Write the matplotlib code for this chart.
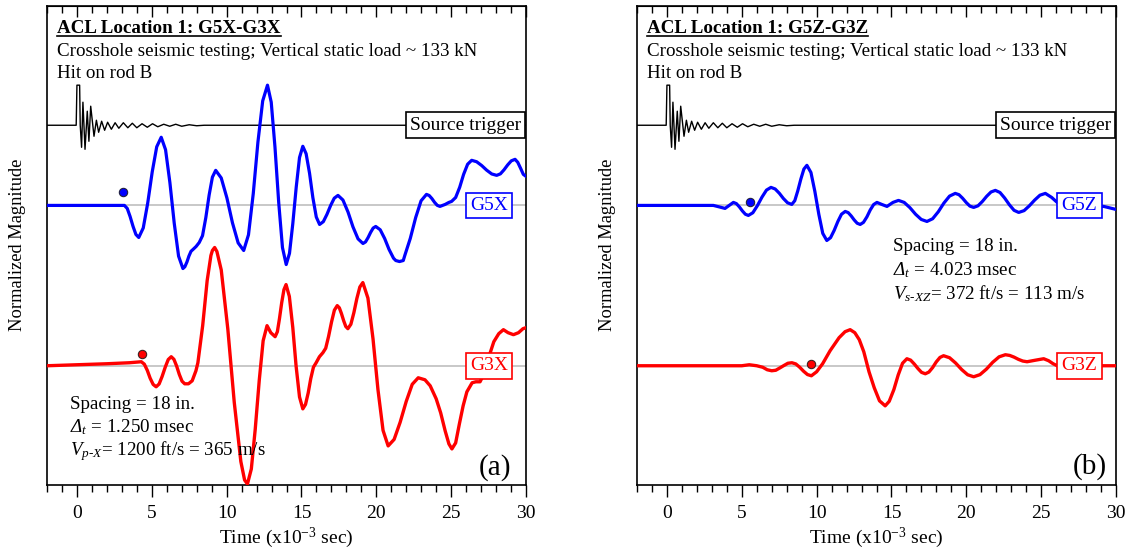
import numpy as np
import matplotlib
matplotlib.use('Agg')
import matplotlib.pyplot as plt
from matplotlib import transforms
from matplotlib.ticker import MultipleLocator
from matplotlib.lines import Line2D

plt.rcParams['font.family'] = ['Liberation Serif', 'DejaVu Serif']
plt.rcParams['mathtext.fontset'] = 'custom'
plt.rcParams['mathtext.rm'] = 'Liberation Serif'
plt.rcParams['mathtext.it'] = 'Liberation Serif:italic'
plt.rcParams['mathtext.cal'] = 'Liberation Serif:italic'   # used for the italic Delta

# time in ms, magnitude in arbitrary (normalized) units

# source trigger (same hit shown in both panels)
trig_t = [-2, -0.05, 0.0, 0.18, 0.22, 0.31, 0.4, 0.54, 0.69, 0.8, 0.92, 1.14, 1.3, 1.45,
          1.65, 1.85, 2.05, 2.3, 2.55, 2.8, 3.1, 3.4, 3.7, 4.0, 4.35, 4.7, 5.05, 5.4,
          5.8, 6.2, 6.6, 7.0, 7.5, 8.0, 8.5, 30]
trig_a = [0, 0, 40, 40, 0, -22, 23, -24, 14, -16, 19, -11, 5, -7,
          4, -5, 3, -4, 2.5, -3, 2.5, -2.5, 2, -2.5, 1.5, -2, 1.5, -1.5,
          1, -1, 1, -1, 0.5, -0.5, 0, 0]

# panel (a): G5X / G3X
g5x_t = [-2, 0, 2, 3.17, 3.36, 3.55, 3.75, 3.94, 4.13, 4.43, 4.73, 5.03, 5.33, 5.63,
         5.92, 6.21, 6.5, 6.79, 7.08, 7.21, 7.35, 7.48, 7.62, 7.75, 7.96, 8.17,
         8.39, 8.61, 8.83, 9.05, 9.27, 9.64, 10.02, 10.39, 10.77, 11.14,
         11.46, 11.78, 12.09, 12.41, 12.73, 12.98, 13.23, 13.48, 13.73, 13.98,
         14.2, 14.42, 14.65, 14.87, 15.09, 15.31, 15.54, 15.76, 15.99, 16.21,
         16.46, 16.7, 16.95, 17.19, 17.44, 17.77, 18.11, 18.44, 18.78, 19.11,
         19.28, 19.45, 19.62, 19.79, 19.96, 20.26, 20.56, 20.85, 21.15, 21.3, 21.55, 21.8,
         21.91, 22.27, 22.63, 22.99, 23.35, 23.53, 23.71, 23.89, 24.07, 24.25, 24.6, 24.85,
         25.03, 25.3, 25.57, 25.83, 26.1, 26.37, 26.7, 27.04, 27.37, 27.71, 28.04,
         28.29, 28.53, 28.78, 29.02, 29.27, 29.45, 29.64, 29.82, 30]
g5x_a = [0, 0, 0, 0, -3, -11, -21, -29, -32, -22.5, 2.5, 33.5, 58.5, 68,
         55.6, 22.8, -17.8, -50.6, -63, -61.2, -56.4, -50.6, -45.8, -44, -41, -37,
         -30.2, -12.2, 10.2, 28.2, 35, 27.4, 7.4, -17.4, -37.4, -45,
         -29.3, 11.9, 63.1, 104.3, 120, 103, 58.2, 2.8, -42, -59,
         -47.8, -18.3, 18.3, 47.8, 59, 51.6, 32.1, 7.9, -11.6, -19,
         -16.2, -9, 0, 7.2, 10, 5.4, -6.6, -21.4, -33.4, -38,
         -36.4, -32.1, -26.9, -22.6, -21, -24.3, -33.1, -43.9, -52.7, -55, -56, -55,
         -49.6, -32.9, -12.1, 4.6, 11, 9.9, 6.9, 3.1, 0.1, -1, 1, 3,
         4, 7.9, 18.1, 30.9, 41.1, 45, 43.6, 39.8, 35.2, 31.4, 30,
         31.5, 35.5, 40.5, 44.5, 46, 43, 37, 31, 29]

g3x_t = [-2, 0, 2, 3.5, 4.3, 4.5, 4.7, 4.89, 5.09, 5.29, 5.49, 5.69, 5.9, 6.1, 6.3,
         6.48, 6.66, 6.84, 7.02, 7.2, 7.45, 7.7, 7.95, 8.08, 8.4, 8.7, 8.95, 9.05, 9.2, 9.35,
         9.64, 10.08, 10.51, 10.95, 11.2, 11.39, 11.65, 11.91, 12.18, 12.44, 12.7, 12.95,
         13.24, 13.39, 13.53, 13.68, 13.83, 13.97, 14.19, 14.42, 14.64, 14.87, 15.09,
         15.27, 15.45, 15.62, 15.8, 15.98, 16.2, 16.43, 16.62, 16.81, 17.01, 17.2, 17.39,
         17.53, 17.67, 17.82, 17.96, 18.1, 18.3, 18.5, 18.7, 18.9, 19.1, 19.44, 19.78,
         20.11, 20.45, 20.79, 21.19, 21.59, 22.0, 22.4, 22.8, 23.25, 23.6, 24.0, 24.3,
         24.6, 24.85, 25.05, 25.3, 25.55, 25.8, 26.05, 26.4, 26.65, 26.93, 27.2, 27.5,
         27.85, 28.18, 28.49, 28.8, 29.16, 29.5, 29.8, 30]
g3x_a = [0, 1, 2, 3, 4, 1.6, -4.6, -12.4, -18.6, -21, -18.2, -10.7, -1.4, 6.2, 9,
         6.4, -0.3, -8.7, -15.4, -18, -18, -15, -5, 3, 40, 85, 110, 115, 118, 114,
         95.6, 36.6, -36.6, -95.6, -114, -118, -103, -63.5, -14.5, 25, 40, 33,
         29, 34, 47, 63, 76, 81, 69.2, 38.2, -0.2, -31.2, -43,
         -38.6, -27.1, -12.9, -1.4, 3, 9, 13, 17.5, 29.2, 43.8, 55.5, 60,
         57.8, 52.1, 44.9, 39.2, 37, 41.4, 52.9, 67.1, 78.6, 83, 67.5, 26.8,
         -23.8, -64.5, -80, -73.5, -56.5, -35.5, -18.5, -12, -14, -20, -33, -47,
         -65, -78, -83, -77, -58, -40, -26, -17, -16, -16, -8, 8,
         24, 32, 36, 33, 31, 33, 37, 38]

# panel (b): G5Z / G3Z
g5z_t = [-2, 1, 2.5, 3.1, 3.5, 3.88, 4.16, 4.44, 4.64, 4.84, 5.04, 5.24, 5.44,
         5.74, 6.04, 6.35, 6.65, 6.95, 7.23, 7.51, 7.78, 8.06, 8.34, 8.54, 8.74, 8.95,
         9.15, 9.35, 9.62, 9.88, 10.15, 10.41, 10.68, 10.93, 11.17, 11.42, 11.66, 11.91,
         12.11, 12.31, 12.51, 12.71, 12.91, 13.13, 13.36, 13.58, 13.81, 14.03, 14.35,
         14.7, 15.1, 15.47, 15.85, 16.23, 16.61, 16.99, 17.37, 17.75, 18.13, 18.5, 18.88,
         19.26, 19.51, 19.75, 20.0, 20.24, 20.49, 20.78, 21.07, 21.36, 21.65, 21.94,
         22.25, 22.56, 22.88, 23.19, 23.5, 23.86, 24.21, 24.57, 24.92, 25.28, 25.7,
         26.07, 27, 28, 29.18, 30]
g5z_a = [0, 0, 0, 0, -1.5, -3, 0, 3, 1.8, -1.5, -5.5, -8.8, -10,
         -7.3, -0.3, 8.3, 15.3, 18, 16.4, 12.1, 6.9, 2.6, 1, 4.7, 14.5, 26.5,
         36.3, 40, 32.9, 14.1, -9.1, -27.9, -35, -32.2, -25, -16, -8.8, -6,
         -7.2, -10.5, -14.5, -17.8, -19, -16.9, -11.4, -4.6, 0.9, 3, 1,
         -1, 3, 5, 3, -2.2, -8.8, -14, -16, -13.3, -6.3, 2.3, 9.3,
         12, 10.7, 7.2, 2.8, -0.7, -2, -0.4, 3.9, 9.1, 13.4, 15,
         12.9, 7.4, 0.6, -4.9, -7, -5.2, -0.4, 5.4, 10.2, 12, 8,
         3, 0, 0, -1, -4]

g3z_t = [-2, 2, 5.0, 5.5, 6.0, 6.4, 6.7, 7.0, 7.27, 7.54, 7.81, 8.08, 8.35, 8.61, 8.87,
         9.13, 9.39, 9.65, 10.0, 10.4, 10.9, 11.5, 11.9, 12.24, 12.55, 12.85, 13.15,
         13.5, 13.85, 14.2, 14.58, 14.85, 15.16, 15.45, 15.74, 16.03, 16.28, 16.52,
         16.77, 17.01, 17.26, 17.5, 17.75, 17.99, 18.24, 18.48, 18.88, 19.28, 19.69,
         20.09, 20.49, 20.91, 21.34, 21.76, 22.19, 22.61, 22.9, 23.19, 23.48, 23.77,
         24.06, 24.6, 25.17, 25.5, 25.8, 26.07, 30]
g3z_a = [0, 0, 0, 1, 0, -1.5, -4, -5, -4.5, -2.2, 0.2, 2.5, 3, 1.8, -1.5,
         -5.5, -8.8, -10, -6, 2, 15, 28, 34, 36, 33, 26, 14,
         -6, -22, -35, -40, -35.5, -23.8, -9.2, 2.5, 7, 5.6, 1.8,
         -2.8, -6.6, -8, -6.3, -1.8, 3.8, 8.3, 10, 8, 2.8, -3.8,
         -9, -11, -8.9, -3.4, 3.4, 8.9, 11, 10.3, 8.6, 6.4, 4.7,
         4, 5.5, 7, 5, 2, 0, 0]

# picked first arrivals (t, magnitude above trace baseline)
pick_a = [(3.06, 13), (4.33, 12)]
pick_b = [(5.57, 3), (9.6, 2)]

titles = ['ACL Location 1: G5X-G3X', 'ACL Location 1: G5Z-G3Z']
notes_a = ['Spacing = 18 in.', r'$\mathcal{Δ}_{t}$ = 1.250 msec',
           r'$V_{p\text{-}X}$= 1200 ft/s = 365 m/s']
notes_b = ['Spacing = 18 in.', r'$\mathcal{Δ}_{t}$ = 4.023 msec',
           r'$V_{s\text{-}XZ}$= 372 ft/s = 113 m/s']

base_trig, base_top, base_bot = 0, -80, -240
fs = 14
fs_txt = 13.7

fig = plt.figure(figsize=(11.33, 5.52), dpi=100)
ax1 = fig.add_axes([47 / 1133, 67 / 552, 479 / 1133, 479 / 552])
ax2 = fig.add_axes([637 / 1133, 67 / 552, 479 / 1133, 479 / 552])


def draw_panel(ax, top_t, top_a, bot_t, bot_a, labels, picks, title, notes, notes_xy, letter):
    ax.set_xlim(-2, 30)
    ax.set_ylim(-359, 119)
    ax.axhline(base_top, color='#c8c8c8', lw=1.4, zorder=1)
    ax.axhline(base_bot, color='#c8c8c8', lw=1.4, zorder=1)
    ax.plot(trig_t, np.array(trig_a) + base_trig, color='black', lw=1.0, zorder=2)
    ax.plot(top_t, np.array(top_a) + base_top, color='#0000ff', lw=2.3, zorder=3)
    ax.plot(bot_t, np.array(bot_a) + base_bot, color='#ff0000', lw=2.4, zorder=3)
    ax.plot(picks[0][0], picks[0][1] + base_top, 'o', ms=6, mfc='#0000ff', mec='#202040', mew=0.8, zorder=4)
    ax.plot(picks[1][0], picks[1][1] + base_bot, 'o', ms=6, mfc='#ff0000', mec='#402020', mew=0.8, zorder=4)

    tr = transforms.blended_transform_factory(ax.transAxes, ax.transData)
    for (xf, yb, txt, col) in labels:
        ax.text(xf, yb, txt, transform=tr, ha='center', va='center', color=col, fontsize=fs,
                zorder=5, bbox=dict(boxstyle='square,pad=0.22', fc='white', ec=col, lw=1.2))

    ax.set_xticks(range(0, 31, 5))
    ax.xaxis.set_minor_locator(MultipleLocator(1))
    ax.set_yticks([])
    ax.tick_params(axis='x', which='major', direction='out', length=8.5, width=1.0, labelsize=fs, pad=6)
    ax.tick_params(axis='x', which='minor', direction='out', length=5, width=1.0)
    sec = ax.secondary_xaxis('top')
    sec.set_xticks(range(0, 31, 5))
    sec.xaxis.set_minor_locator(MultipleLocator(1))
    sec.tick_params(axis='x', which='major', direction='in', length=8, width=1.0, labeltop=False)
    sec.tick_params(axis='x', which='minor', direction='in', length=5, width=1.0)
    for sp in ax.spines.values():
        sp.set_linewidth(1.2)

    t = ax.text(0.021, 0.954, title, transform=ax.transAxes, fontsize=fs_txt, fontweight='bold', va='center')
    ax.text(0.021, 0.906, 'Crosshole seismic testing; Vertical static load ~ 133 kN',
            transform=ax.transAxes, fontsize=fs_txt, va='center')
    ax.text(0.021, 0.860, 'Hit on rod B', transform=ax.transAxes, fontsize=fs_txt, va='center')
    for i, line in enumerate(notes):
        ax.text(notes_xy[0], notes_xy[1] - i * 0.049, line, transform=ax.transAxes,
                fontsize=fs_txt, va='center', zorder=6)
    ax.text(letter[0], letter[1], letter[2], transform=ax.transAxes, fontsize=21,
            ha='center', va='center')
    return t


t1 = draw_panel(ax1, g5x_t, g5x_a, g3x_t, g3x_a,
                [(0.874, base_trig, 'Source trigger', 'black'),
                 (0.923, base_top, 'G5X', '#0000ff'),
                 (0.923, base_bot, 'G3X', '#ff0000')],
                pick_a, titles[0], notes_a, (0.048, 0.169), (0.935, 0.037, '(a)'))
t2 = draw_panel(ax2, g5z_t, g5z_a, g3z_t, g3z_a,
                [(0.874, base_trig, 'Source trigger', 'black'),
                 (0.924, base_top, 'G5Z', '#0000ff'),
                 (0.924, base_bot, 'G3Z', '#ff0000')],
                pick_b, titles[1], notes_b, (0.535, 0.497), (0.946, 0.039, '(b)'))

for xc in (18, 607):
    fig.text(xc / 1133, 1 - 245 / 552, 'Normalized Magnitude', rotation=90,
             ha='center', va='center', fontsize=13.3)
for xc in (286.5, 876.5):
    fig.text(xc / 1133, 1 - 538 / 552, 'Time (x10$^{-3}$ sec)', ha='center', va='center', fontsize=fs)

# underline the bold titles
fig.canvas.draw()
for t in (t1, t2):
    bb = t.get_window_extent()
    y = (bb.y0 + 1) / fig.bbox.height
    fig.add_artist(Line2D([bb.x0 / fig.bbox.width, bb.x1 / fig.bbox.width], [y, y],
                          color='black', lw=1.2))

fig.savefig('out.png', dpi=100)
